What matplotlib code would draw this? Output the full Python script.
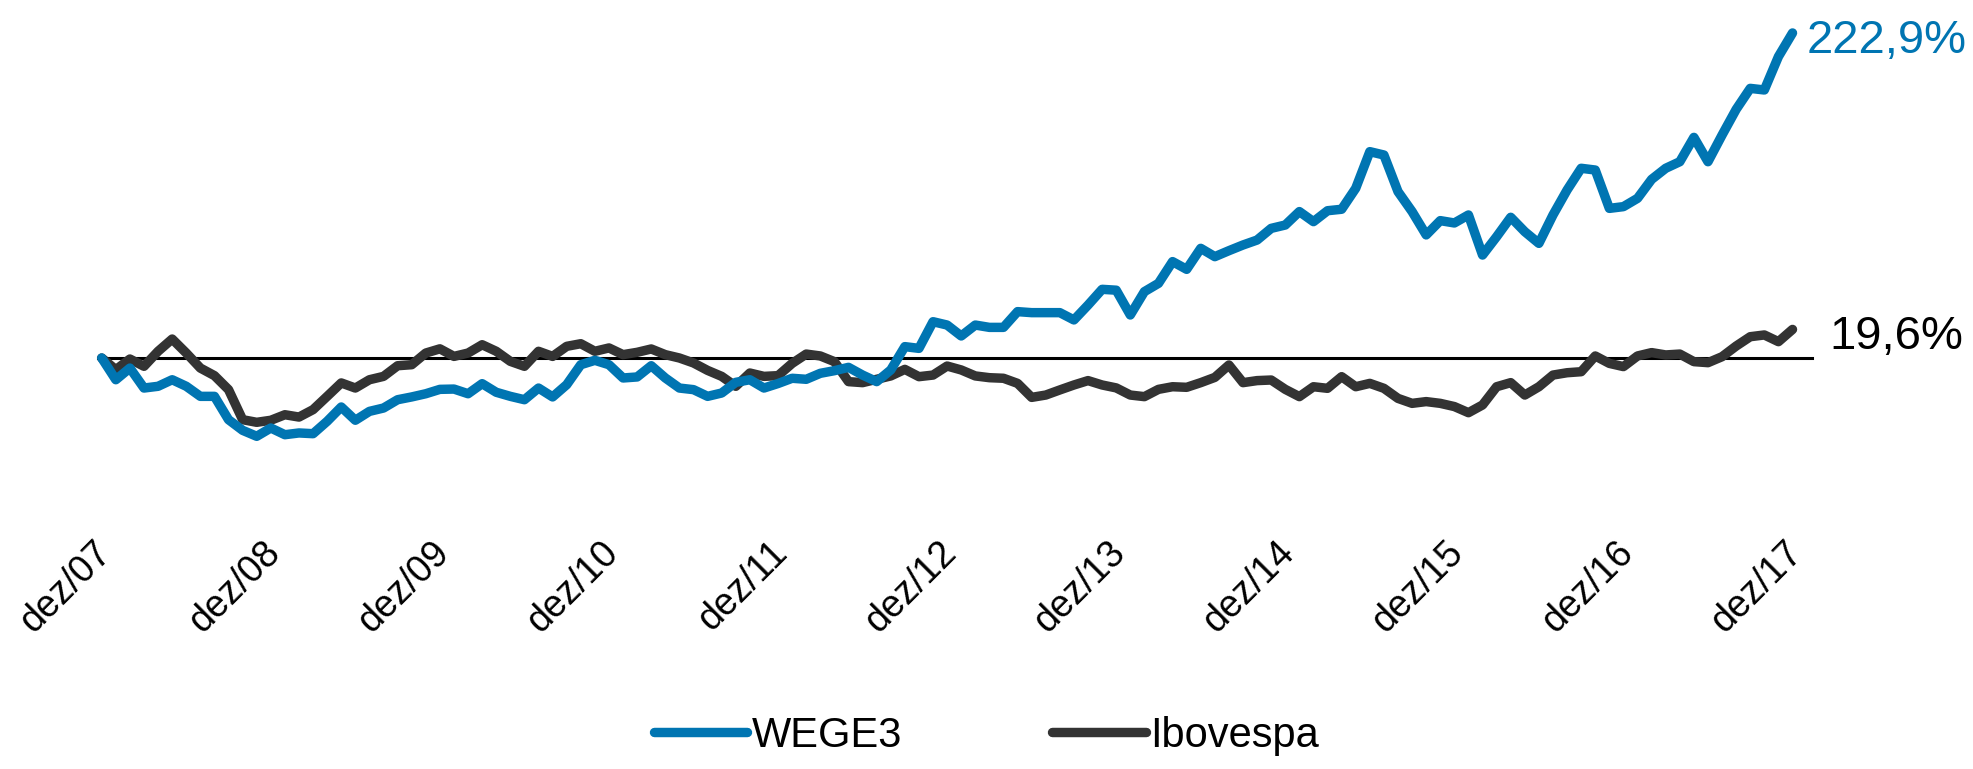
import numpy as np
import matplotlib
matplotlib.use('Agg')
import matplotlib.pyplot as plt
import matplotlib.transforms as mtransforms

# accumulated return (%) since dez/07, monthly
wege3 = [0, -14.9, -6.9, -20.6, -19.4, -14.9, -19.4, -26.3, -26.3, -42.3,
         -49.6, -53.7, -48.0, -52.6, -51.4, -51.9, -43.4, -33.6, -42.7, -36.6,
         -34.3, -28.6, -26.7, -24.5, -21.5, -21.3, -24.5, -17.6, -23.5, -26.3,
         -28.6, -20.6, -26.7, -18.3, -4.6, -1.6, -4.6, -13.7, -13.0, -5.3,
         -13.7, -20.6, -21.7, -26.3, -24.0, -16.7, -14.9, -20.6, -17.5, -13.9,
         -14.6, -10.5, -8.7, -6.4, -11.7, -16.2, -8.2, 7.8, 6.6, 24.9,
         22.6, 15.1, 22.6, 21.0, 21.0, 31.8, 31.1, 31.1, 31.1, 26.1,
         36.3, 47.1, 46.5, 29.5, 45.5, 51.2, 66.1, 60.8, 75.2, 69.5,
         73.6, 77.5, 80.9, 88.9, 91.2, 100.4, 93.5, 101.0, 102.0, 116.4,
         141.5, 139.2, 114.1, 100.4, 84.4, 94.2, 92.6, 98.1, 70.6, 83.2,
         96.5, 86.6, 78.6, 98.1, 115.2, 130.1, 128.9, 102.6, 103.8, 109.5,
         122.5, 130.1, 134.6, 151.3, 134.6, 152.9, 170.5, 184.9, 183.8, 206.7,
         222.9]
ibovespa = [0, -8.0, -0.7, -5.7, 4.6, 13.0, 3.4, -6.9, -12.1, -21.7,
            -42.3, -44.1, -42.7, -38.9, -40.5, -35.4, -26.3, -17.1, -20.6, -14.9,
            -12.6, -5.3, -4.6, 3.4, 6.3, 1.1, 3.4, 9.1, 4.6, -2.3,
            -5.7, 4.6, 1.1, 8.0, 9.8, 4.6, 6.9, 2.3, 3.9, 6.2,
            2.3, 0.0, -3.4, -8.5, -12.6, -19.4, -10.3, -12.6, -12.1, -3.7,
            2.7, 1.4, -2.5, -16.2, -16.9, -14.6, -12.3, -7.8, -12.8, -11.7,
            -5.5, -8.2, -12.3, -13.5, -13.9, -17.4, -27.0, -25.4, -21.9, -18.5,
            -15.5, -18.5, -20.5, -25.4, -26.5, -21.5, -19.7, -20.1, -16.9, -13.3,
            -4.8, -16.9, -15.5, -15.1, -21.5, -26.5, -19.7, -20.8, -12.8, -19.7,
            -17.4, -20.8, -27.7, -31.1, -29.9, -31.1, -33.3, -37.5, -32.2, -19.7,
            -16.9, -25.4, -19.7, -11.7, -10.1, -9.4, 1.4, -3.7, -5.9, 1.4,
            3.7, 2.1, 2.7, -2.5, -3.2, 0.9, 8.2, 14.6, 15.8, 11.2,
            19.6]
tick_labels = ['dez/07', 'dez/08', 'dez/09', 'dez/10', 'dez/11', 'dez/12',
               'dez/13', 'dez/14', 'dez/15', 'dez/16', 'dez/17']

blue = '#0075B2'
dark = '#333333'
fonts = ['Liberation Sans', 'DejaVu Sans']

months = np.arange(len(wege3))

fig = plt.figure(figsize=(19.74, 7.69), dpi=100)
ax = fig.add_axes([0, 0.2978, 1, 0.7022])

ax.plot([-0.3, 121.4], [0, 0], color='black', lw=2.2, zorder=1)
l1, = ax.plot(months, wege3, color=blue, lw=6.8, solid_joinstyle='round',
              solid_capstyle='round', label='WEGE3', zorder=3)
l2, = ax.plot(months, ibovespa, color=dark, lw=6.8, solid_joinstyle='round',
              solid_capstyle='round', label='Ibovespa', zorder=2)

ax.set_xlim(-7.22, 132.88)
ax.set_ylim(-124.8, 245.5)

ax.set_xticks(months[::12])
ax.set_xticklabels(tick_labels, rotation=45, ha='right', va='center',
                   rotation_mode='anchor', fontsize=27, family=fonts)
ax.tick_params(axis='x', length=0, pad=5)
# nudge the rotated labels a little to the right
shift = mtransforms.ScaledTranslation(0.04, 0, fig.dpi_scale_trans)
for lab in ax.get_xticklabels():
    lab.set_transform(lab.get_transform() + shift)
ax.set_yticks([])
for s in ax.spines.values():
    s.set_visible(False)

# end labels
ax.text(121.0, 209.2, '222,9%', color=blue, fontsize=34, family=fonts,
        ha='left', va='baseline')
ax.text(122.6, 6.0, '19,6%', color='black', fontsize=34, family=fonts,
        ha='left', va='baseline')

fig.legend(handles=[l1, l2], loc='center', bbox_to_anchor=(0.4996, 0.043),
           ncol=2, frameon=False, handlelength=2.25, handletextpad=0.1,
           columnspacing=3.6, prop={'family': fonts, 'size': 30})

fig.savefig('out.png', dpi=100)
